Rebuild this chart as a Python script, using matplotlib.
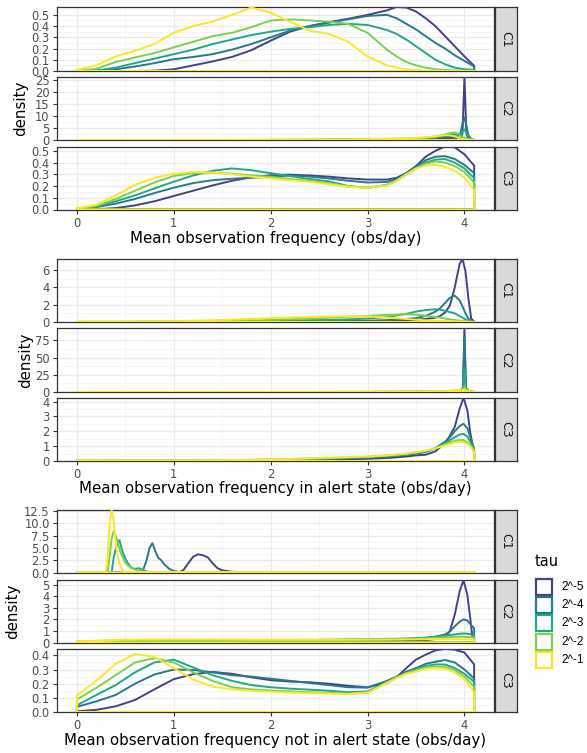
import matplotlib
matplotlib.use('Agg')
import matplotlib.pyplot as plt
from matplotlib.patches import Rectangle
import numpy as np

plt.rcParams['font.family'] = ['DejaVu Sans']

# ---------------- data ----------------
taus = ['2^-5', '2^-4', '2^-3', '2^-2', '2^-1']
tau_colors = ['#414487', '#2A788E', '#22A884', '#7AD151', '#FDE725']
clusters = ['C1', 'C2', 'C3']
group_xlabels = ['Mean observation frequency (obs/day)',
                 'Mean observation frequency in alert state (obs/day)',
                 'Mean observation frequency not in alert state (obs/day)']
x_ticks = [0, 1, 2, 3, 4]

# shared x grid for the broad densities
x_broad = [0, 0.2, 0.4, 0.6, 0.8, 1.0, 1.2, 1.4, 1.6, 1.8, 2.0, 2.2, 2.4, 2.6, 2.8,
           3.0, 3.2, 3.3, 3.4, 3.5, 3.6, 3.7, 3.8, 3.9, 4.0, 4.1]

# Group 1: overall frequency
g1c1 = [
    [0, 0, 0, 0, 0.003, 0.015, 0.05, 0.085, 0.125, 0.185, 0.27, 0.35, 0.40, 0.435, 0.465, 0.50, 0.54, 0.57, 0.565, 0.53, 0.47, 0.40, 0.31, 0.22, 0.13, 0.046],
    [0, 0.003, 0.015, 0.04, 0.07, 0.105, 0.125, 0.15, 0.19, 0.24, 0.30, 0.36, 0.40, 0.43, 0.46, 0.49, 0.50, 0.47, 0.42, 0.37, 0.31, 0.25, 0.20, 0.14, 0.09, 0.04],
    [0, 0.005, 0.03, 0.07, 0.11, 0.15, 0.19, 0.24, 0.28, 0.32, 0.35, 0.375, 0.39, 0.41, 0.42, 0.41, 0.365, 0.33, 0.28, 0.22, 0.16, 0.10, 0.06, 0.03, 0.015, 0.01],
    [0, 0.02, 0.08, 0.12, 0.16, 0.21, 0.26, 0.31, 0.34, 0.39, 0.45, 0.46, 0.45, 0.44, 0.42, 0.34, 0.19, 0.13, 0.08, 0.05, 0.03, 0.015, 0.01, 0.005, 0.003, 0.002],
    [0.01, 0.05, 0.13, 0.18, 0.24, 0.34, 0.40, 0.44, 0.50, 0.565, 0.52, 0.44, 0.36, 0.33, 0.26, 0.13, 0.05, 0.03, 0.015, 0.008, 0.004, 0.002, 0.001, 0, 0, 0],
]
x_g1c2 = [0, 1.0, 2.0, 2.5, 3.0, 3.3, 3.5, 3.6, 3.7, 3.75, 3.8, 3.85, 3.9, 3.93, 3.96, 3.98, 4.0, 4.02, 4.04, 4.07, 4.1]
g1c2 = [
    [0, 0, 0.01, 0.03, 0.1, 0.2, 0.3, 0.4, 0.5, 0.6, 0.7, 0.8, 0.9, 0.6, 0.8, 3.0, 26.1, 3.0, 0.3, 0.05, 0.02],
    [0, 0, 0.02, 0.05, 0.15, 0.3, 0.45, 0.6, 0.8, 1.0, 1.2, 1.4, 1.5, 1.5, 3.0, 7.0, 9.3, 6.0, 2.0, 0.3, 0.05],
    [0, 0.01, 0.03, 0.08, 0.2, 0.4, 0.6, 0.8, 1.1, 1.4, 1.8, 2.2, 2.5, 2.3, 2.5, 3.5, 4.4, 3.0, 1.5, 0.3, 0.05],
    [0, 0.01, 0.04, 0.1, 0.25, 0.5, 0.75, 1.0, 1.4, 1.8, 2.3, 2.8, 3.1, 2.7, 1.8, 1.2, 1.0, 0.7, 0.4, 0.1, 0.05],
    [0, 0.02, 0.06, 0.15, 0.35, 0.6, 0.9, 1.1, 1.5, 1.8, 2.0, 1.9, 1.5, 1.0, 0.6, 0.4, 0.3, 0.2, 0.1, 0.05, 0.02],
]
g1c3 = [
    [0, 0.002, 0.012, 0.035, 0.07, 0.115, 0.16, 0.205, 0.245, 0.275, 0.292, 0.297, 0.29, 0.28, 0.265, 0.255, 0.255, 0.27, 0.31, 0.37, 0.45, 0.50, 0.537, 0.53, 0.47, 0.374],
    [0.005, 0.02, 0.05, 0.09, 0.14, 0.186, 0.225, 0.25, 0.262, 0.27, 0.28, 0.29, 0.28, 0.265, 0.245, 0.23, 0.235, 0.26, 0.31, 0.366, 0.42, 0.45, 0.455, 0.43, 0.38, 0.31],
    [0.005, 0.025, 0.07, 0.12, 0.18, 0.237, 0.29, 0.33, 0.35, 0.335, 0.31, 0.285, 0.26, 0.24, 0.20, 0.185, 0.21, 0.25, 0.30, 0.35, 0.40, 0.425, 0.43, 0.40, 0.35, 0.266],
    [0.005, 0.03, 0.09, 0.16, 0.23, 0.286, 0.31, 0.315, 0.305, 0.29, 0.28, 0.26, 0.245, 0.225, 0.195, 0.185, 0.205, 0.245, 0.30, 0.35, 0.39, 0.41, 0.40, 0.37, 0.32, 0.23],
    [0.01, 0.04, 0.12, 0.21, 0.27, 0.305, 0.32, 0.315, 0.30, 0.28, 0.265, 0.25, 0.235, 0.215, 0.195, 0.185, 0.205, 0.245, 0.30, 0.35, 0.375, 0.38, 0.365, 0.33, 0.27, 0.166],
]

# Group 2: in alert state
x_g2c1 = [0, 0.5, 1.0, 1.5, 2.0, 2.5, 2.8, 3.0, 3.2, 3.4, 3.5, 3.6, 3.7, 3.75, 3.8, 3.85, 3.9, 3.95, 3.98, 4.01, 4.04, 4.07, 4.1]
g2c1 = [
    [0, 0, 0, 0, 0.02, 0.05, 0.07, 0.08, 0.1, 0.15, 0.25, 0.35, 0.5, 0.7, 1.1, 1.9, 4.0, 6.7, 7.28, 5.9, 2.8, 0.4, 0.05],
    [0, 0, 0.02, 0.04, 0.06, 0.1, 0.13, 0.15, 0.22, 0.35, 0.45, 0.7, 1.2, 1.6, 2.2, 2.8, 3.05, 2.5, 1.8, 1.0, 0.4, 0.1, 0.03],
    [0, 0.01, 0.03, 0.06, 0.12, 0.22, 0.3, 0.4, 0.58, 0.95, 1.2, 1.38, 1.47, 1.42, 1.3, 1.15, 1.0, 0.7, 0.5, 0.3, 0.15, 0.06, 0.02],
    [0.02, 0.03, 0.06, 0.12, 0.23, 0.45, 0.6, 0.7, 0.82, 0.9, 0.85, 0.72, 0.58, 0.5, 0.4, 0.3, 0.23, 0.15, 0.1, 0.07, 0.05, 0.03, 0.02],
    [0.05, 0.05, 0.1, 0.23, 0.45, 0.6, 0.66, 0.64, 0.52, 0.35, 0.26, 0.2, 0.15, 0.12, 0.1, 0.08, 0.07, 0.05, 0.04, 0.03, 0.02, 0.01, 0.01],
]
x_g2c2 = [0, 1.0, 2.0, 2.5, 3.0, 3.3, 3.5, 3.7, 3.8, 3.9, 3.95, 3.985, 4.0, 4.015, 4.05, 4.1]
g2c2 = [
    [0, 0, 0, 0, 0.05, 0.1, 0.2, 0.3, 0.4, 0.5, 0.8, 5, 93, 5, 0.3, 0.05],
    [0, 0, 0, 0.02, 0.08, 0.15, 0.25, 0.4, 0.5, 0.7, 1.2, 6, 80, 6, 0.4, 0.1],
    [0, 0, 0.02, 0.05, 0.12, 0.2, 0.35, 0.6, 0.9, 1.2, 2.0, 6, 35, 6, 0.8, 0.2],
    [0, 0.02, 0.05, 0.1, 0.2, 0.35, 0.5, 0.8, 1.2, 1.8, 3.0, 5, 7, 4, 1.2, 0.3],
    [0, 0.03, 0.08, 0.15, 0.3, 0.5, 0.8, 1.2, 1.6, 2.2, 2.8, 3.2, 3.3, 2.5, 1.0, 0.4],
]
x_g2c3 = [0, 0.5, 1.0, 1.5, 2.0, 2.5, 3.0, 3.2, 3.4, 3.5, 3.6, 3.7, 3.8, 3.85, 3.9, 3.95, 3.99, 4.03, 4.06, 4.1]
g2c3 = [
    [0.02, 0.01, 0.01, 0.02, 0.04, 0.08, 0.15, 0.2, 0.3, 0.38, 0.42, 0.65, 1.2, 1.7, 2.3, 3.5, 4.27, 3.4, 1.9, 0.5],
    [0.02, 0.02, 0.02, 0.04, 0.07, 0.13, 0.22, 0.3, 0.42, 0.5, 0.6, 0.85, 1.3, 1.6, 2.0, 2.35, 2.5, 2.2, 1.6, 0.8],
    [0.03, 0.02, 0.03, 0.05, 0.08, 0.15, 0.25, 0.33, 0.45, 0.55, 0.65, 0.85, 1.2, 1.4, 1.6, 1.78, 1.82, 1.65, 1.3, 0.8],
    [0.05, 0.03, 0.04, 0.06, 0.1, 0.18, 0.28, 0.36, 0.48, 0.57, 0.68, 0.85, 1.1, 1.25, 1.35, 1.42, 1.4, 1.25, 1.05, 0.75],
    [0.06, 0.04, 0.04, 0.06, 0.1, 0.2, 0.3, 0.38, 0.5, 0.6, 0.7, 0.85, 1.05, 1.15, 1.25, 1.3, 1.28, 1.15, 1.0, 0.6],
]

# Group 3: not in alert state (C1 has one x grid per tau)
g3c1_x = [
    [0, 1.05, 1.10, 1.15, 1.20, 1.25, 1.30, 1.35, 1.40, 1.45, 1.50, 1.60, 1.70, 1.80, 2.0, 4.1],
    [0, 0.64, 0.68, 0.72, 0.75, 0.78, 0.81, 0.84, 0.87, 0.90, 0.95, 1.0, 1.05, 1.10, 4.1],
    [0, 0.34, 0.36, 0.38, 0.40, 0.42, 0.44, 0.46, 0.48, 0.50, 0.53, 0.56, 0.60, 0.64, 0.68, 0.72, 0.76, 4.1],
    [0, 0.30, 0.32, 0.34, 0.36, 0.38, 0.40, 0.42, 0.44, 0.46, 0.48, 0.50, 0.53, 0.56, 0.60, 0.64, 0.68, 0.72, 0.76, 4.1],
    [0, 0.28, 0.30, 0.32, 0.34, 0.36, 0.38, 0.40, 0.42, 0.44, 0.46, 0.48, 0.50, 0.53, 4.1],
]
g3c1 = [
    [0, 0, 0.5, 1.9, 3.2, 3.7, 3.5, 3.1, 1.9, 0.9, 0.45, 0.15, 0.06, 0.03, 0.02, 0],
    [0, 0, 0.3, 2.5, 5.0, 5.95, 4.3, 3.0, 2.5, 1.7, 0.8, 0.3, 0.12, 0.04, 0],
    [0, 0, 0.2, 3.0, 4.8, 6.0, 6.6, 5.0, 3.8, 2.8, 1.8, 1.0, 0.7, 0.9, 0.5, 0.2, 0.05, 0],
    [0, 0, 0.5, 3.6, 7.0, 8.4, 7.5, 6.3, 4.8, 3.6, 2.8, 2.0, 1.4, 0.9, 0.6, 0.4, 0.2, 0.1, 0.03, 0],
    [0, 0, 0.3, 4.0, 10.0, 12.7, 10.5, 6.0, 3.5, 1.8, 0.8, 0.3, 0.1, 0.02, 0],
]
x_g3c2 = [0, 0.5, 1.0, 1.5, 2.0, 2.5, 3.0, 3.3, 3.5, 3.6, 3.7, 3.8, 3.85, 3.9, 3.95, 3.99, 4.03, 4.06, 4.08, 4.1]
g3c2 = [
    [0.0, 0.02, 0.05, 0.06, 0.07, 0.08, 0.1, 0.12, 0.15, 0.2, 0.3, 0.45, 1.0, 2.4, 4.4, 5.4, 4.1, 2.1, 0.6, 0.3],
    [0.02, 0.1, 0.15, 0.15, 0.15, 0.17, 0.2, 0.25, 0.33, 0.4, 0.5, 0.7, 0.95, 1.4, 1.8, 2.0, 1.9, 1.6, 1.4, 1.24],
    [0.05, 0.15, 0.18, 0.18, 0.2, 0.22, 0.28, 0.32, 0.38, 0.42, 0.5, 0.6, 0.65, 0.7, 0.75, 0.78, 0.76, 0.72, 0.70, 0.68],
    [0.07, 0.2, 0.22, 0.22, 0.22, 0.23, 0.26, 0.3, 0.33, 0.36, 0.4, 0.45, 0.47, 0.5, 0.5, 0.5, 0.48, 0.46, 0.45, 0.44],
    [0.1, 0.24, 0.26, 0.25, 0.24, 0.23, 0.24, 0.25, 0.27, 0.28, 0.3, 0.3, 0.3, 0.3, 0.3, 0.29, 0.28, 0.27, 0.26, 0.25],
]
g3c3 = [
    [0.005, 0.015, 0.04, 0.085, 0.16, 0.232, 0.267, 0.283, 0.27, 0.245, 0.225, 0.215, 0.21, 0.2, 0.185, 0.175, 0.205, 0.245, 0.31, 0.37, 0.405, 0.435, 0.445, 0.44, 0.42, 0.336],
    [0.036, 0.075, 0.12, 0.2, 0.265, 0.30, 0.297, 0.28, 0.26, 0.25, 0.235, 0.22, 0.205, 0.19, 0.175, 0.172, 0.22, 0.25, 0.285, 0.31, 0.34, 0.355, 0.367, 0.35, 0.30, 0.237],
    [0.047, 0.12, 0.19, 0.28, 0.35, 0.37, 0.315, 0.26, 0.22, 0.19, 0.175, 0.165, 0.158, 0.15, 0.14, 0.145, 0.21, 0.245, 0.275, 0.30, 0.325, 0.336, 0.336, 0.31, 0.27, 0.213],
    [0.088, 0.17, 0.26, 0.35, 0.38, 0.35, 0.28, 0.22, 0.175, 0.16, 0.152, 0.146, 0.14, 0.135, 0.13, 0.14, 0.21, 0.245, 0.275, 0.296, 0.315, 0.32, 0.32, 0.295, 0.25, 0.178],
    [0.118, 0.22, 0.34, 0.41, 0.39, 0.31, 0.23, 0.18, 0.16, 0.15, 0.143, 0.137, 0.133, 0.13, 0.127, 0.135, 0.205, 0.24, 0.27, 0.284, 0.305, 0.31, 0.305, 0.28, 0.23, 0.142],
]

# y tick breaks per facet
yt_g1 = [[0, 0.1, 0.2, 0.3, 0.4, 0.5], [0, 5, 10, 15, 20, 25], [0, 0.1, 0.2, 0.3, 0.4, 0.5]]
yt_g2 = [[0, 2, 4, 6], [0, 25, 50, 75], [0, 1, 2, 3, 4]]
yt_g3 = [[0, 2.5, 5.0, 7.5, 10.0, 12.5], [0, 1, 2, 3, 4, 5], [0, 0.1, 0.2, 0.3, 0.4]]
yfmt_g1 = ['{:.1f}', '{:.0f}', '{:.1f}']
yfmt_g2 = ['{:.0f}', '{:.0f}', '{:.0f}']
yfmt_g3 = ['{:.1f}', '{:.0f}', '{:.1f}']

def same_x(x, ys):
    return [(x, y) for y in ys]

groups = [
    [same_x(x_broad, g1c1), same_x(x_g1c2, g1c2), same_x(x_broad, g1c3)],
    [same_x(x_g2c1, g2c1), same_x(x_g2c2, g2c2), same_x(x_g2c3, g2c3)],
    [list(zip(g3c1_x, g3c1)), same_x(x_g3c2, g3c2), same_x(x_broad, g3c3)],
]
yticks_all = [yt_g1, yt_g2, yt_g3]
yfmt_all = [yfmt_g1, yfmt_g2, yfmt_g3]

# ---------------- layout (pixels) ----------------
W, H = 587, 753
fig = plt.figure(figsize=(W / 100, H / 100), dpi=100)
fig.patch.set_facecolor('white')

PL, PR = 57, 494
SL, SR = 494.5, 516.5
panel_rows = [
    [(7, 71), (77, 140), (146.5, 209.5)],
    [(259, 322), (328, 392), (397.5, 461)],
    [(510, 572.5), (580, 642.5), (649, 712)],
]
xlabel_y = [239, 489, 741]
ylabel_x = [20.5, 25.5, 12.5]
BORDER = '#333333'
TICK_FS = 8.3
TITLE_FS = 10.8


def fig_rect(x0, y0, x1, y1):
    return [x0 / W, 1 - y1 / H, (x1 - x0) / W, (y1 - y0) / H]


for gi, grp in enumerate(groups):
    for ci, series in enumerate(grp):
        top, bot = panel_rows[gi][ci]
        ax = fig.add_axes(fig_rect(PL, top, PR, bot))
        ax.set_xlim(-0.205, 4.305)
        ymax = max(max(ys) for _, ys in series)
        ax.set_ylim(0, ymax)
        yt = yticks_all[gi][ci]
        step = yt[1] - yt[0]
        ax.set_yticks(yt)
        ax.set_yticklabels([yfmt_all[gi][ci].format(v) for v in yt])
        ax.set_yticks([v + step / 2 for v in yt if v + step / 2 < ymax], minor=True)
        ax.set_xticks(x_ticks)
        ax.set_xticks([0.5, 1.5, 2.5, 3.5], minor=True)
        ax.grid(which='major', color='#EBEBEB', lw=0.9)
        ax.grid(which='minor', color='#F3F3F3', lw=0.5)
        ax.set_axisbelow(True)
        ax.tick_params(which='minor', length=0)
        ax.tick_params(which='major', length=3, width=0.8, color=BORDER,
                       labelsize=TICK_FS, labelcolor='#4D4D4D', pad=2.2)
        if ci < 2:
            ax.tick_params(axis='x', length=0, labelbottom=False)
        else:
            ax.set_xticklabels([str(v) for v in x_ticks])
        for s in ax.spines.values():
            s.set_color(BORDER)
            s.set_linewidth(0.9)
        for ti, (xs, ys) in enumerate(series):
            xc = np.r_[xs[0], xs, xs[-1]]
            yc = np.r_[0, ys, 0]
            ax.fill(xc, yc, facecolor='none', edgecolor=tau_colors[ti], lw=1.4,
                    joinstyle='round', zorder=3)
        # strip
        sax = fig.add_axes(fig_rect(SL, top, SR, bot))
        sax.set_facecolor('#D9D9D9')
        sax.set_xticks([])
        sax.set_yticks([])
        for s in sax.spines.values():
            s.set_color(BORDER)
            s.set_linewidth(0.9)
        sax.text(0.5, 0.5, clusters[ci], rotation=270, ha='center', va='center',
                 fontsize=9, color='#1A1A1A', transform=sax.transAxes)
    top = panel_rows[gi][0][0]
    bot = panel_rows[gi][2][1]
    fig.text((PL + PR) / 2 / W, 1 - xlabel_y[gi] / H, group_xlabels[gi],
             ha='center', va='center', fontsize=TITLE_FS, color='black')
    fig.text(ylabel_x[gi] / W, 1 - (top + bot) / 2 / H, 'density', rotation=90,
             ha='center', va='center', fontsize=TITLE_FS, color='black')

# legend
fig.text(535 / W, 1 - 562 / H, 'tau', ha='left', va='center', fontsize=10.5)
for i, (lab, col) in enumerate(zip(taus, tau_colors)):
    y0 = 578.5 + i * 18.4
    fig.add_artist(Rectangle((536 / W, 1 - (y0 + 16) / H), 15.5 / W, 16 / H,
                             transform=fig.transFigure, facecolor='white',
                             edgecolor=col, lw=1.6))
    fig.text(561 / W, 1 - (y0 + 8) / H, lab, ha='left', va='center',
             fontsize=8.5, family='Liberation Sans')

fig.savefig('out.png', dpi=100)
